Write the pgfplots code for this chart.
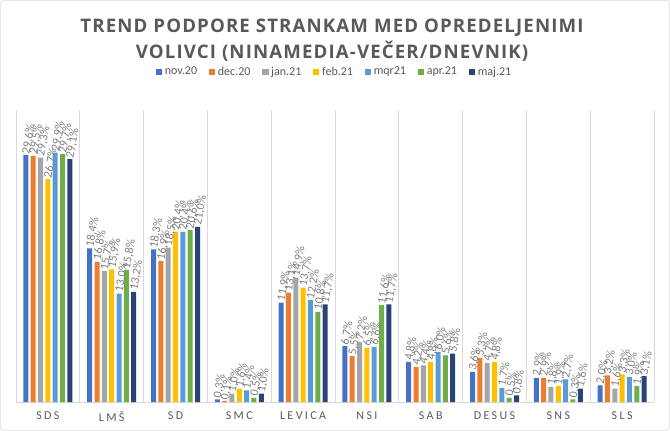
\documentclass[border=0pt]{standalone}
\usepackage{pgfplots}
\pgfplotsset{compat=1.18}
\usepackage{fontspec}
\setmainfont{Carlito}
\newfontfamily\titlefont{Open Sans}
\definecolor{c1}{HTML}{4472C4}
\definecolor{c2}{HTML}{ED7D31}
\definecolor{c3}{HTML}{A5A5A5}
\definecolor{c4}{HTML}{FFC000}
\definecolor{c5}{HTML}{5B9BD5}
\definecolor{c6}{HTML}{70AD47}
\definecolor{c7}{HTML}{264478}
\definecolor{titlegray}{HTML}{595959}
\definecolor{labelgray}{HTML}{808080}
\definecolor{gridgray}{HTML}{D9D9D9}
\begin{document}
\begin{tikzpicture}
\useasboundingbox (0,0) rectangle (502.5pt,323.25pt);
\draw[gridgray, rounded corners=2pt] (0.4pt,0.4pt) rectangle (502.1pt,322.85pt);
\node[align=center, text=titlegray, font=\titlefont\fontsize{14}{19}\selectfont\bfseries\addfontfeature{LetterSpace=6}] at (249pt,293pt) {TREND PODPORE STRANKAM MED OPREDELJENIMI\\VOLIVCI (NINAMEDIA-VEČER/DNEVNIK)};
\begin{axis}[
  at={(12pt,21.75pt)}, anchor=south west,
  scale only axis, width=478.5pt, height=219pt,
  ybar=1.75pt, bar width=3.75pt,
  xmin=-0.5, xmax=9.5, ymin=0, ymax=35,
  xtick={0,...,9},
  xticklabels={SDS,LMŠ,SD,SMC,LEVICA,NSI,SAB,DESUS,SNS,SLS},
  xticklabel style={font=\fontsize{9}{10}\selectfont\addfontfeature{LetterSpace=20}, text=titlegray, yshift=-4pt},
  major tick length=0pt,
  minor xtick={-0.5,0.5,...,9.5},
  minor tick length=0pt,
  xminorgrids, minor grid style={gridgray, line width=0.6pt},
  axis x line*=bottom, axis y line=none,
  x axis line style={draw=gridgray, line width=0.6pt, -},
  ytick=\empty,
  clip=false,
  /pgf/number format/assume math mode=true,
  nodes near coords={\pgfmathprintnumber[fixed,fixed zerofill,precision=1,use comma]{\pgfplotspointmeta}\%},
  every node near coord/.append style={rotate=80, anchor=west, font=\fontsize{9}{10}\selectfont, text=labelgray, inner sep=1pt},
  legend style={at={(0.5,1.13)}, anchor=center, legend columns=7, draw=none, font=\fontsize{9}{10}\selectfont, text=titlegray,
    /tikz/every even column/.append style={column sep=7pt}},
  legend image code/.code={\fill[#1] (0pt,-2.3pt) rectangle (4.6pt,2.3pt);},
]
\addplot[fill=c1, draw=none] coordinates {(0,29.6) (1,18.4) (2,18.3) (3,0.3) (4,11.9) (5,6.7) (6,4.8) (7,3.6) (8,2.9) (9,2.0)};
\addplot[fill=c2, draw=none] coordinates {(0,29.5) (1,16.8) (2,16.9) (3,0.1) (4,13.1) (5,5.5) (6,4.2) (7,5.3) (8,2.9) (9,3.2)};
\addplot[fill=c3, draw=none] coordinates {(0,29.3) (1,15.7) (2,18.5) (3,1.0) (4,14.9) (5,7.2) (6,4.4) (7,4.7) (8,1.8) (9,1.6)};
\addplot[fill=c4, draw=none] coordinates {(0,26.7) (1,15.9) (2,20.4) (3,1.6) (4,13.7) (5,6.5) (6,4.8) (7,4.8) (8,1.9) (9,3.3)};
\addplot[fill=c5, draw=none] coordinates {(0,29.9) (1,13.0) (2,20.4) (3,1.4) (4,12.2) (5,6.6) (6,6.0) (7,1.7) (8,2.7) (9,3.0)};
\addplot[fill=c6, draw=none] coordinates {(0,29.7) (1,15.8) (2,20.6) (3,0.5) (4,10.8) (5,11.6) (6,5.6) (7,0.5) (8,0.3) (9,1.9)};
\addplot[fill=c7, draw=none] coordinates {(0,29.1) (1,13.2) (2,21.0) (3,1.0) (4,11.7) (5,11.7) (6,5.8) (7,0.8) (8,1.6) (9,3.1)};
\legend{nov.20,dec.20,jan.21,feb.21,mqr21,apr.21,maj.21}
\end{axis}
\end{tikzpicture}
\end{document}
